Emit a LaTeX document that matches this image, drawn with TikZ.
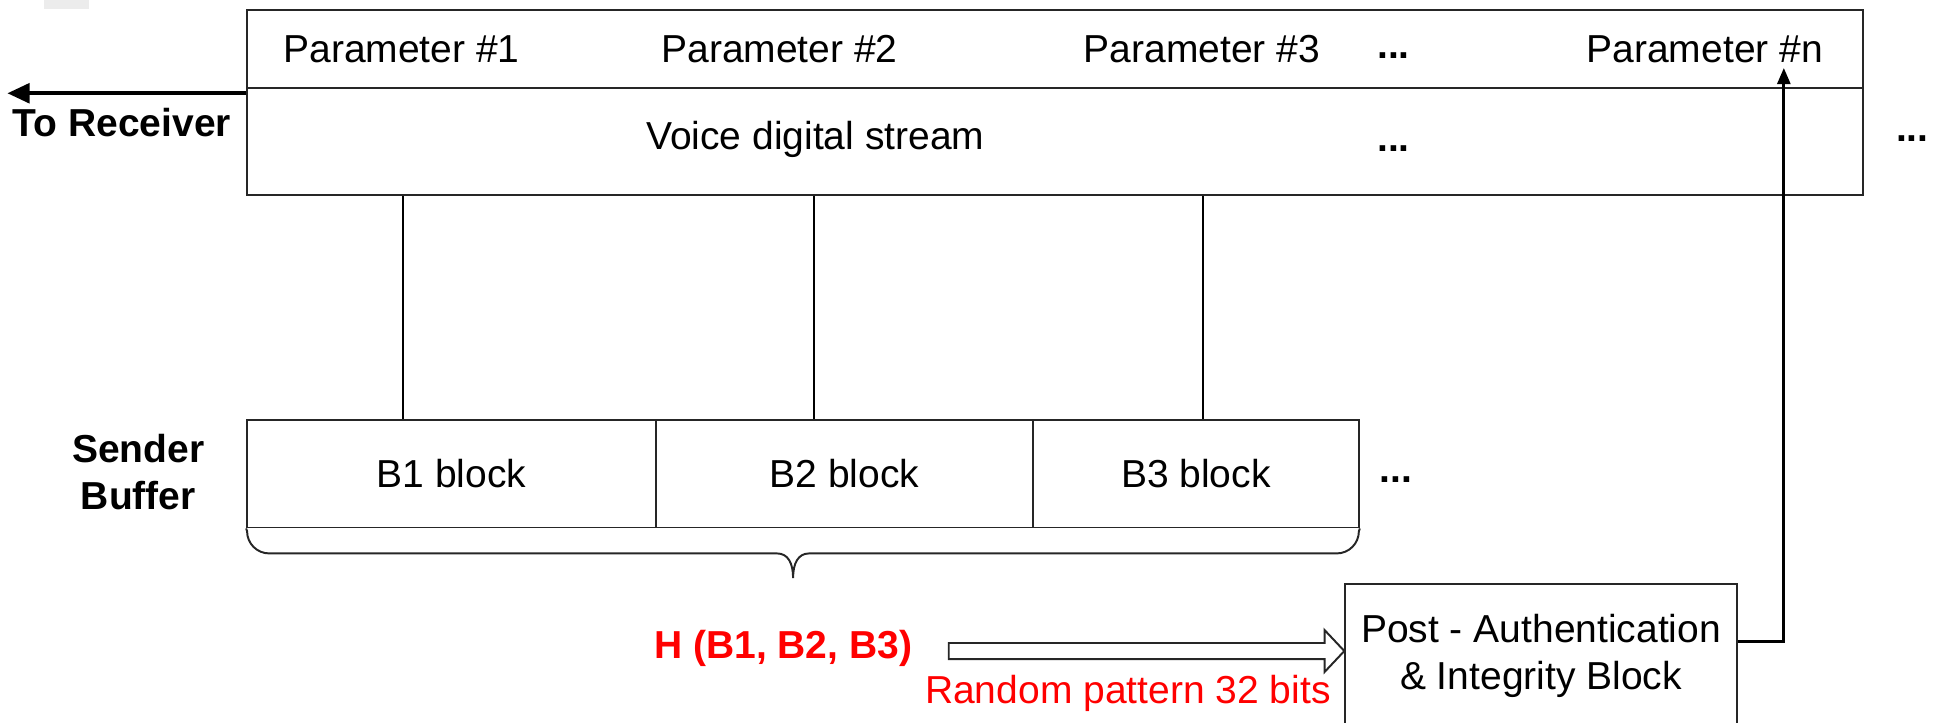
\documentclass[tikz,border=0pt,12pt]{standalone}
\usepackage{fontspec}
\setmainfont{Liberation Sans}
\usetikzlibrary{arrows.meta,calc}

\begin{document}
\begin{tikzpicture}[x=0.38pt,y=-0.38pt,
  box/.style={draw=black!85,line width=0.6pt,inner sep=0pt},
  cell/.style={box,minimum height=33.06pt},
  link/.style={draw=black,line width=0.6pt},
  bold/.style={font=\bfseries},
  hashtxt/.style={text=red}]
  \useasboundingbox (0,0) rectangle (1568,585);
  \fill[gray!15] (36,0) rectangle (72,7);
  \node[box,minimum width=497.04pt,minimum height=23.94pt] (params) at (854,39.5) {};
  \node[box,minimum width=497.04pt,minimum height=33.06pt] (stream) at (854,114.5) {};
  \node (p1) at (325,40) {Parameter \#1};
  \node (p2) at (631,40) {Parameter \#2};
  \node (p3) at (973,40) {Parameter \#3};
  \node[bold] (pdots) at (1128,45) {...};
  \node (pn) at (1380,40) {Parameter \#n};
  \node (vds) at (660,113) {Voice digital stream};
  \node[bold] (sdots) at (1128,120) {...};
  \node[bold] (rdots) at (1548,112) {...};
  \coordinate (rx) at (6,75.5);
  \draw[line width=1.2pt,-{Triangle[length=6.8pt,width=6pt]}] (params.south west |- rx) -- (rx);
  \node[bold,anchor=east] (recv) at (198,99) {To Receiver};
  \node[bold,align=center] (sbuf) at (112,382) {Sender\\Buffer};
  \node[cell,minimum width=125.78pt] (b1) at (365.5,383.5) {B1 block};
  \node[cell,minimum width=115.9pt] (b2) at (683.5,383.5) {B2 block};
  \node[cell,minimum width=100.32pt] (b3) at (968,383.5) {B3 block};
  \node[bold] (bdots) at (1130,388) {...};
  \foreach \x/\b in {326/b1,659/b2,974/b3}
    \draw[link] (\x,0 |- stream.south) -- (\x,0 |- \b.north);
  \draw[box] (b1.south west) -- (200,430) .. controls (200,440) and (208,448) .. (218,448)
    -- (629,448) .. controls (638,448) and (642,456) .. (642,468)
    .. controls (642,456) and (646,448) .. (655,448) -- (1082,448)
    .. controls (1092,448) and (1100,440) .. (1100,430) -- (b3.south east);
  \node[box,minimum width=120.46pt,minimum height=44.08pt,align=center] (post) at (1247.5,531) {Post - Authentication\\\& Integrity Block};
  \coordinate (tip) at (1444,55);
  \draw[line width=0.9pt,-{Triangle[length=5pt,width=4pt]}] ([yshift=4.56pt]post.east) -| (tip);
  \node[hashtxt,bold] (hash) at (634,525) {H (B1, B2, B3)};
  \node[hashtxt] (rnd) at (913,561) {Random pattern 32 bits};
  \coordinate (ha) at (768,527);
  \coordinate (hb) at (ha -| post.west);
  \draw[box,fill=white] ($(ha)+(0,-6.5)$) -- ($(hb)+(-16,-6.5)$) -- ($(hb)+(-16,-17)$) -- (hb)
    -- ($(hb)+(-16,17)$) -- ($(hb)+(-16,6.5)$) -- ($(ha)+(0,6.5)$) -- cycle;
\end{tikzpicture}
\end{document}
